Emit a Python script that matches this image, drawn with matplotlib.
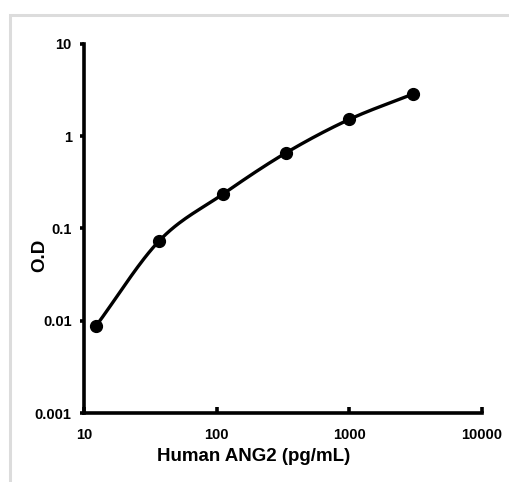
import matplotlib
matplotlib.use('Agg')
import matplotlib.pyplot as plt
from matplotlib.patches import Rectangle
import numpy as np

plt.rcParams['font.family'] = ['Liberation Sans', 'DejaVu Sans']

# standard curve values
conc = [12.3, 37, 111, 333, 1000, 3000]
od = [0.0088, 0.074, 0.235, 0.66, 1.52, 2.85]
x_ticks = [10, 100, 1000, 10000]
x_labels = ['10', '100', '1000', '10000']
y_ticks = [0.001, 0.01, 0.1, 1, 10]
y_labels = ['0.001', '0.01', '0.1', '1', '10']


def smooth_line(xs, ys, n=30):
    # catmull-rom through the points in log space (like a spreadsheet "smoothed line")
    p = np.column_stack([np.log10(xs), np.log10(ys)])
    p = np.vstack([p[0] - (p[1] - p[0]), p, p[-1] + (p[-1] - p[-2])])
    out = []
    for i in range(1, len(p) - 2):
        p0, p1, p2, p3 = p[i - 1], p[i], p[i + 1], p[i + 2]
        t = np.linspace(0, 1, n)[:, None]
        seg = 0.5 * ((2 * p1) + (-p0 + p2) * t + (2 * p0 - 5 * p1 + 4 * p2 - p3) * t**2
                     + (-p0 + 3 * p1 - 3 * p2 + p3) * t**3)
        out.append(seg)
    out = np.vstack(out)
    return 10**out[:, 0], 10**out[:, 1]


fig = plt.figure(figsize=(5.1, 4.82), dpi=100)
ax = fig.add_axes([0.165, 0.143, 0.78, 0.766])

# light grey frame around the picture
fig.patches.append(Rectangle((10 / 510, -0.1), 1.2, 1.1 - 15 / 482, transform=fig.transFigure,
                             fill=False, edgecolor='#dcdcdc', linewidth=2.2))

sx, sy = smooth_line(conc, od)
ax.plot(sx, sy, color='black', linewidth=2.4, solid_capstyle='round')
ax.plot(conc, od, 'o', color='black', markersize=8.5)

ax.set_xscale('log')
ax.set_yscale('log')
ax.set_xlim(10, 10000)
ax.set_ylim(0.001, 10)
ax.minorticks_off()
ax.set_xticks(x_ticks)
ax.set_xticklabels(x_labels)
ax.set_yticks(y_ticks)
ax.set_yticklabels(y_labels)

for s in ['top', 'right']:
    ax.spines[s].set_visible(False)
for s in ['left', 'bottom']:
    ax.spines[s].set_linewidth(2.6)

ax.tick_params(axis='x', direction='in', length=4, width=2.6, pad=11, labelsize=10.5)
ax.tick_params(axis='y', direction='out', length=3, width=2.6, pad=6, labelsize=10.5)
for lbl in ax.get_xticklabels() + ax.get_yticklabels():
    lbl.set_fontweight('bold')

ax.set_xlabel('Human ANG2 (pg/mL)', fontsize=13.5, fontweight='bold', va='top')
ax.xaxis.set_label_coords(0.427, -0.095)
ax.set_ylabel('O.D', fontsize=13.5, fontweight='bold')
ax.yaxis.set_label_coords(-0.09, 0.428)

fig.savefig('out.png', dpi=100)
